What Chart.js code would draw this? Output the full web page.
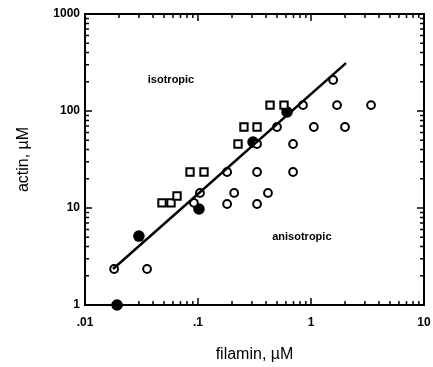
<!DOCTYPE html>
<html lang="en">
<head>
  <meta charset="UTF-8">
  <title>actin vs filamin</title>
  <script src="https://cdn.jsdelivr.net/npm/chart.js"></script>
  <style>
    * { margin: 0; padding: 0; box-sizing: border-box; }
    body { background: #fff; width: 433px; height: 367px; overflow: hidden; }
  </style>
</head>
<body>
  <canvas id="phaseChart" width="433" height="367"></canvas>

  <script>
    // open circles (anisotropic)
    const openX = [0.0181, 0.0354, 0.092, 0.104, 0.181, 0.209, 0.333, 0.416, 0.181, 0.333, 0.694, 0.333, 0.694, 0.50, 1.06, 2.0, 0.849, 1.70, 3.40, 1.57];
    const openY = [2.35, 2.35, 11.3, 14.3, 11.0, 14.3, 11.0, 14.3, 23.5, 23.5, 23.5, 45.7, 45.7, 68.4, 68.4, 68.4, 115, 115, 115, 209];
    // open squares (isotropic)
    const squareX = [0.048, 0.0577, 0.0652, 0.085, 0.113, 0.226, 0.255, 0.333, 0.434, 0.577];
    const squareY = [11.3, 11.3, 13.3, 23.5, 23.5, 45.7, 68.4, 68.4, 115, 115];
    // filled circles (boundary)
    const filledX = [0.0192, 0.030, 0.102, 0.307, 0.614];
    const filledY = [1.0, 5.14, 9.77, 47.9, 97.7];
    // fitted line
    const fitX = [0.0177, 2.04];
    const fitY = [2.35, 312];

    const xTickValues = [0.01, 0.1, 1, 10];
    const xTickLabels = ['.01', '.1', '1', '10'];
    const yTickValues = [1, 10, 100, 1000];
    const yTickLabels = ['1', '10', '100', '1000'];

    const pts = (xs, ys) => xs.map((x, i) => ({ x: x, y: ys[i] }));

    // minor ticks 1..9 inside each decade
    function logTicks(lo, hi) {
      const out = [];
      for (let d = lo; d < hi; d *= 10) {
        for (let m = 1; m < 10; m++) out.push({ v: d * m, major: m === 1 });
      }
      out.push({ v: hi, major: true });
      return out;
    }

    const framePlugin = {
      id: 'frame',
      afterDatasetsDraw(chart) {
        const { ctx, chartArea: a, scales } = chart;
        ctx.save();
        ctx.strokeStyle = '#000';
        ctx.lineWidth = 2;
        ctx.strokeRect(a.left, a.top, a.right - a.left, a.bottom - a.top);
        ctx.lineWidth = 1.5;
        ctx.beginPath();
        logTicks(0.01, 10).forEach(t => {
          const px = scales.x.getPixelForValue(t.v);
          const len = t.major ? 7 : 4;
          ctx.moveTo(px, a.bottom); ctx.lineTo(px, a.bottom - len);
          ctx.moveTo(px, a.top); ctx.lineTo(px, a.top + len);
        });
        logTicks(1, 1000).forEach(t => {
          const py = scales.y.getPixelForValue(t.v);
          const len = t.major ? 7 : 4;
          ctx.moveTo(a.left, py); ctx.lineTo(a.left + len, py);
          ctx.moveTo(a.right, py); ctx.lineTo(a.right - len, py);
        });
        ctx.stroke();

        // region labels
        ctx.fillStyle = '#000';
        ctx.textAlign = 'center';
        ctx.textBaseline = 'middle';
        ctx.font = 'bold 11px "Liberation Sans", Arial, sans-serif';
        ctx.fillText('isotropic', scales.x.getPixelForValue(0.0577), scales.y.getPixelForValue(209));
        ctx.fillText('anisotropic', scales.x.getPixelForValue(0.83), scales.y.getPixelForValue(5.0));

        // axis titles
        ctx.font = '16px "Liberation Sans", Arial, sans-serif';
        ctx.fillText('filamin, \u00b5M', (a.left + a.right) / 2, 355);
        ctx.translate(24, (a.top + a.bottom) / 2);
        ctx.rotate(-Math.PI / 2);
        ctx.fillText('actin, \u00b5M', 0, 0);
        ctx.restore();
      }
    };

    const tickFont = { family: '"Liberation Sans", Arial, sans-serif', size: 12, weight: 'bold' };

    new Chart(document.getElementById('phaseChart'), {
      type: 'scatter',
      data: {
        datasets: [
          {
            label: 'fit',
            data: pts(fitX, fitY),
            showLine: true,
            borderColor: '#000',
            borderWidth: 2.5,
            pointRadius: 0,
            clip: false
          },
          {
            label: 'isotropic',
            data: pts(squareX, squareY),
            pointStyle: 'rect',
            pointRadius: 5.2,
            borderWidth: 2,
            borderColor: '#000',
            backgroundColor: '#fff',
            clip: false
          },
          {
            label: 'anisotropic',
            data: pts(openX, openY),
            pointStyle: 'circle',
            pointRadius: 3.9,
            borderWidth: 2,
            borderColor: '#000',
            backgroundColor: '#fff',
            clip: false
          },
          {
            label: 'boundary',
            data: pts(filledX, filledY),
            pointStyle: 'circle',
            pointRadius: 5.8,
            borderWidth: 0,
            borderColor: '#000',
            backgroundColor: '#000',
            clip: false
          }
        ]
      },
      options: {
        responsive: false,
        animation: false,
        layout: { padding: { top: 14, right: 9, left: 0, bottom: 0 } },
        plugins: { legend: { display: false }, tooltip: { enabled: false } },
        scales: {
          x: {
            type: 'logarithmic',
            min: 0.01,
            max: 10,
            grid: { display: false, drawTicks: false },
            border: { display: false },
            afterBuildTicks: s => { s.ticks = xTickValues.map(v => ({ value: v })); },
            afterFit: s => { s.height = 62; s.paddingLeft = 0; s.paddingRight = 0; },
            ticks: {
              autoSkip: false,
              maxRotation: 0,
              padding: 10,
              color: '#000',
              font: tickFont,
              callback: (v) => xTickLabels[xTickValues.indexOf(v)] ?? ''
            }
          },
          y: {
            type: 'logarithmic',
            min: 1,
            max: 1000,
            grid: { display: false, drawTicks: false },
            border: { display: false },
            afterBuildTicks: s => { s.ticks = yTickValues.map(v => ({ value: v })); },
            afterFit: s => { s.width = 85; s.paddingTop = 0; s.paddingBottom = 0; },
            ticks: {
              autoSkip: false,
              padding: 5,
              color: '#000',
              font: tickFont,
              callback: (v) => yTickLabels[yTickValues.indexOf(v)] ?? ''
            }
          }
        }
      },
      plugins: [framePlugin]
    });
  </script>
</body>
</html>
